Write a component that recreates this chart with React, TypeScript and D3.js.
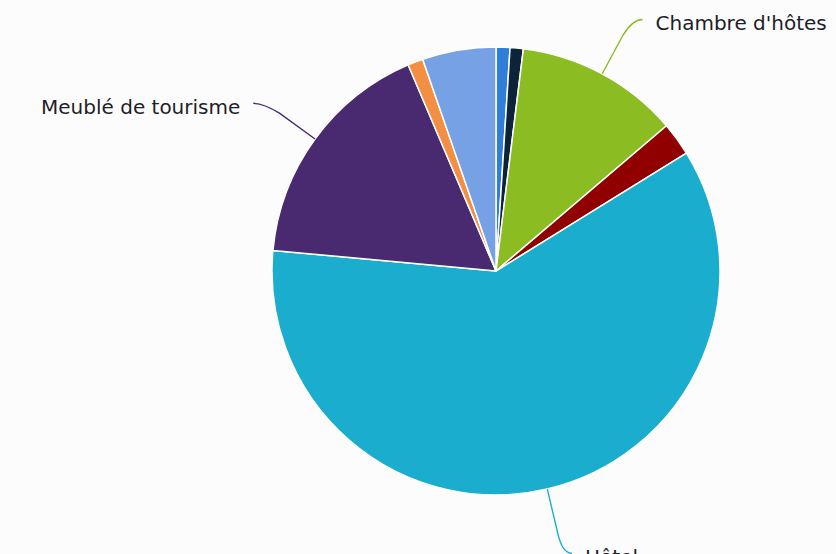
import React from "react";
import * as d3 from "d3";

const categories = [
  "Camping",
  "Résidence de tourisme",
  "Chambre d'hôtes",
  "Village de vacances",
  "Hôtel",
  "Meublé de tourisme",
  "Auberge de jeunesse",
  "Autre",
];
const values = [1.0, 0.95, 11.8, 2.4, 60.2, 17.1, 1.1, 5.3];
const colors = ["#2f7ed8", "#0d233a", "#8bbc21", "#910000", "#1aadce", "#492970", "#f28f43", "#77a1e5"];
const labelled = ["Chambre d'hôtes", "Hôtel", "Meublé de tourisme"];

const W = 836;
const H = 554;

export default function App() {
  const cx = 496;
  const cy = 271;
  const r = 224;
  const data = categories.map((c, i) => ({ name: c, value: values[i], color: colors[i] }));
  const pie = d3.pie<any>().value((d) => d.value).sort(null).startAngle(0).endAngle(2 * Math.PI);
  const arcs = pie(data);
  const arc = d3.arc<any>().innerRadius(0).outerRadius(r);
  const polar = (a: number, rr: number): [number, number] => [cx + rr * Math.sin(a), cy - rr * Math.cos(a)];

  return (
    <div style={{ position: "absolute", left: 0, top: 0 }}>
      <svg width={W} height={H} style={{ display: "block", background: "#fcfcfc" }}>
        <g transform={`translate(${cx},${cy})`}>
          {arcs.map((a, i) => (
            <path key={i} d={arc(a) as string} fill={a.data.color} stroke="#ffffff" strokeWidth={1.5} strokeLinejoin="round" />
          ))}
        </g>
        {arcs
          .filter((a) => labelled.includes(a.data.name))
          .map((a, i) => {
            const mid = (a.startAngle + a.endAngle) / 2;
            const side = Math.sin(mid) >= 0 ? 1 : -1;
            const E = polar(mid, r);
            const B = polar(mid, r + 44);
            const A = polar(mid, r + 64);
            const Hx = A[0] + side * 10;
            const Hy = A[1] + 2;
            const path = `M${E[0]},${E[1]} L${B[0]},${B[1]} Q${A[0]},${A[1] + 2} ${Hx},${Hy}`;
            return (
              <g key={i}>
                <path d={path} fill="none" stroke={a.data.color} strokeWidth={1.4} />
                <text
                  x={Hx + side * 13}
                  y={Hy + 4}
                  textAnchor={side > 0 ? "start" : "end"}
                  dominantBaseline="central"
                  fontFamily="DejaVu Sans, sans-serif"
                  fontSize={20}
                  fill="#1e1e2a"
                >
                  {a.data.name}
                </text>
              </g>
            );
          })}
      </svg>
    </div>
  );
}
